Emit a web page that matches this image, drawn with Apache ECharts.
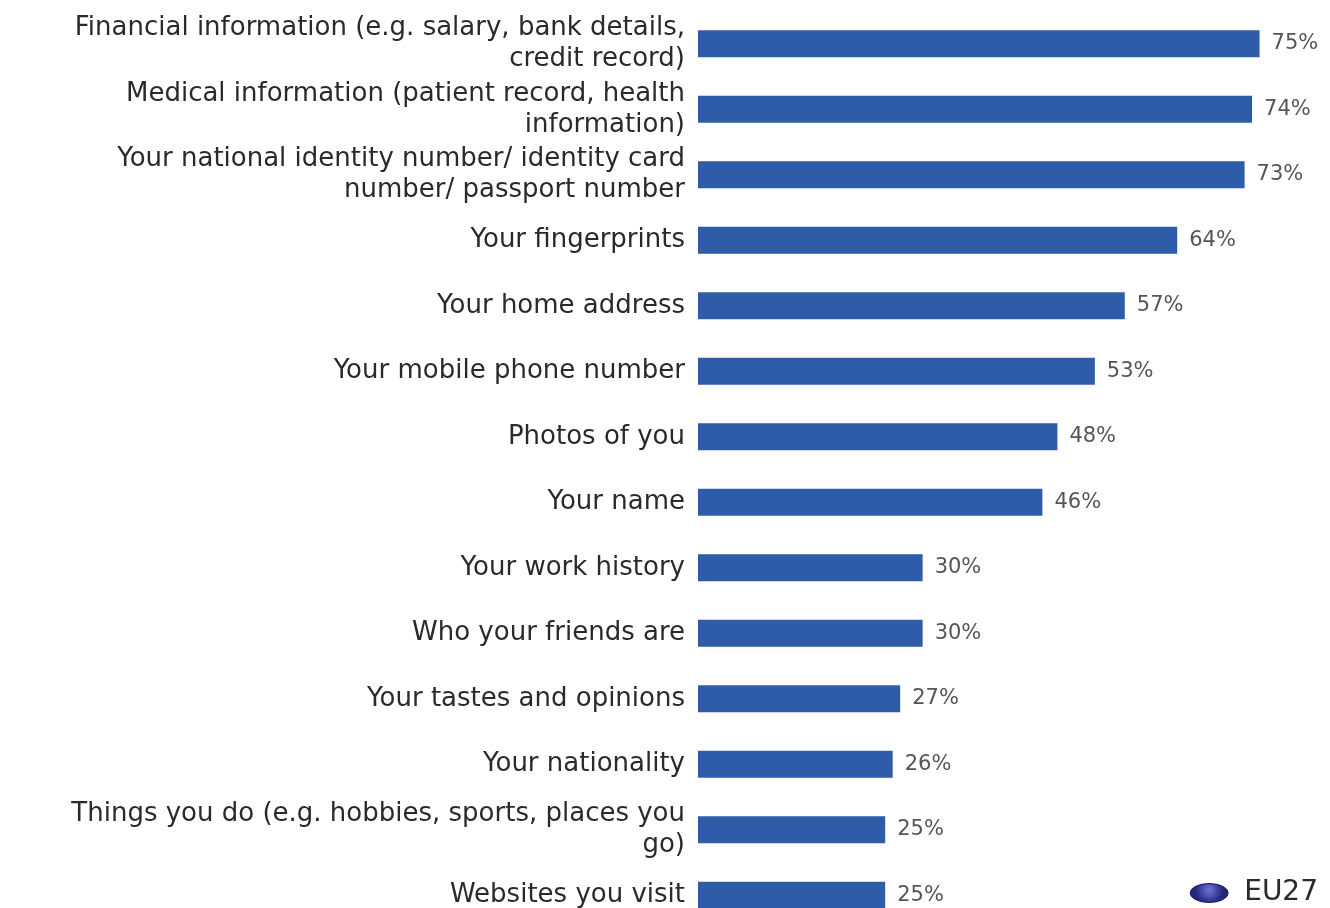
<!DOCTYPE html>
<html>
<head>
<meta charset="utf-8">
<script src="https://cdn.jsdelivr.net/npm/echarts@6/dist/echarts.min.js"></script>
<style>html,body{margin:0;padding:0;background:#fff}#c{width:1330px;height:908px}</style>
</head>
<body>
<div id="c"></div>
<script>
const categories = [
  "Financial information (e.g. salary, bank details,\ncredit record)",
  "Medical information (patient record, health\ninformation)",
  "Your national identity number/ identity card\nnumber/ passport number",
  "Your fingerprints",
  "Your home address",
  "Your mobile phone number",
  "Photos of you",
  "Your name",
  "Your work history",
  "Who your friends are",
  "Your tastes and opinions",
  "Your nationality",
  "Things you do (e.g. hobbies, sports, places you\ngo)",
  "Websites you visit"
];
const seriesName = "EU27";
const values = [75, 74, 73, 64, 57, 53, 48, 46, 30, 30, 27, 26, 25, 25];

const FONT = 'DejaVu Sans, Liberation Sans, Arial, sans-serif';
const chart = echarts.init(document.getElementById('c'), null, {renderer: 'canvas'});
chart.setOption({
  animation: false,
  backgroundColor: '#ffffff',
  textStyle: {fontFamily: FONT},
  grid: {left: 698, right: 33, top: 11, height: 917, containLabel: false, outerBoundsMode: 'none'},
  xAxis: {type: 'value', min: 0, max: 80, show: false},
  yAxis: {
    type: 'category', data: categories, inverse: true,
    axisLine: {show: false}, axisTick: {show: false}, splitLine: {show: false},
    axisLabel: {fontSize: 26, color: '#2a2a2a', margin: 13, lineHeight: 31, align: 'right',
      fontFamily: FONT}
  },
  legend: {
    right: 12, bottom: 1, padding: 0, itemWidth: 38, itemHeight: 20, itemGap: 16,
    data: [{name: seriesName,
      icon: 'path://M0,10a10,5 0 1,0 20,0a10,5 0 1,0 -20,0',
      itemStyle: {color: {type: 'radial', x: 0.5, y: 0.35, r: 0.7,
        colorStops: [{offset: 0, color: '#6f73d8'}, {offset: 1, color: '#23267a'}]},
        borderColor: '#1a1c5a', borderWidth: 1}}],
    textStyle: {fontSize: 28, color: '#2a2a2a', fontFamily: FONT, padding: [0, 0, 0, 11]}
  },
  series: [{
    name: seriesName, type: 'bar', data: values, barWidth: 27,
    itemStyle: {color: '#2f5ca8'},
    label: {show: true, position: 'right', distance: 12, formatter: '{c}%',
      fontSize: 21, color: '#555555', fontFamily: FONT}
  }]
});
</script>
</body>
</html>
